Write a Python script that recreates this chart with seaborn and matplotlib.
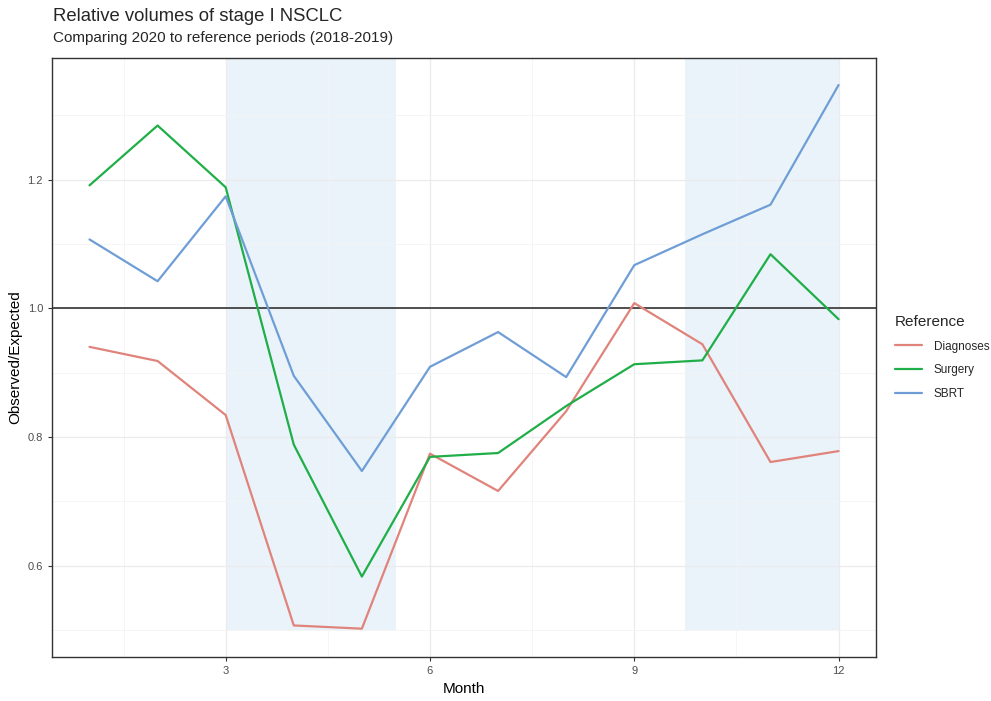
import numpy as np
import pandas as pd
import matplotlib
matplotlib.use('Agg')
import matplotlib.pyplot as plt
import seaborn as sns
from matplotlib.ticker import MultipleLocator

# Veriler (gözlenen / beklenen oranlar, ay bazında)
months = list(range(1, 13))
diagnoses = [0.940, 0.918, 0.834, 0.507, 0.502, 0.774, 0.716, 0.840, 1.008, 0.944, 0.761, 0.778]
surgery = [1.191, 1.284, 1.188, 0.788, 0.583, 0.769, 0.775, 0.848, 0.913, 0.919, 1.084, 0.983]
sbrt = [1.107, 1.042, 1.174, 0.895, 0.747, 0.909, 0.963, 0.893, 1.067, 1.115, 1.161, 1.347]
series_names = ['Diagnoses', 'Surgery', 'SBRT']
lockdowns = [(3, 5.5), (9.75, 12)]

df = pd.DataFrame({
    'Month': months * 3,
    'Value': diagnoses + surgery + sbrt,
    'Reference': [n for n in series_names for _ in months],
})

sns.set_style("white")
plt.rcParams['font.family'] = ['Liberation Sans', 'DejaVu Sans']

fig = plt.figure(figsize=(9.91, 7.01), dpi=100)
ax = fig.add_axes([0.0525, 0.0628, 0.8315, 0.8545])

# gölgeli dönemler
for x0, x1 in lockdowns:
    ax.fill_between([x0, x1], 0.5, 2, color='#EAF3FA', zorder=0, linewidth=0)

ax.axhline(1.0, color='#333333', linewidth=1.2, zorder=2)

palette = {'Diagnoses': '#E0837B', 'Surgery': '#1FAE48', 'SBRT': '#6F9ED6'}
sns.lineplot(data=df, x='Month', y='Value', hue='Reference', palette=palette,
             linewidth=1.6, ax=ax, zorder=3)

ax.set_xlim(0.45, 12.55)
ax.set_ylim(0.458, 1.389)
ax.set_xticks([3, 6, 9, 12])
ax.set_yticks([0.6, 0.8, 1.0, 1.2])
ax.set_yticklabels(['0.6', '0.8', '1.0', '1.2'])
ax.xaxis.set_minor_locator(MultipleLocator(1.5))
ax.yaxis.set_minor_locator(MultipleLocator(0.1))
ax.grid(True, which='major', color='#EBEBEB', linewidth=0.9, zorder=1)
ax.grid(True, which='minor', color='#F4F4F4', linewidth=0.6, zorder=1)
ax.set_axisbelow(True)
for s in ax.spines.values():
    s.set_color('#333333')
    s.set_linewidth(1.0)
ax.tick_params(axis='both', which='major', length=3, color='#333333',
               labelsize=8, labelcolor='#4D4D4D', left=True, bottom=True)
ax.tick_params(which='minor', length=0)

ax.set_xlabel('Month', fontsize=11, color='black')
ax.set_ylabel('Observed/Expected', fontsize=11, color='black')

leg = ax.legend(title='Reference', frameon=False, loc='center left',
                bbox_to_anchor=(1.01, 0.5), fontsize=8.5, title_fontsize=11,
                handlelength=2.3, handletextpad=1.0, labelspacing=1.0)
leg._legend_box.align = 'left'

fig.text(0.0535, 0.989, 'Relative volumes of stage I NSCLC', fontsize=13.3, va='top')
fig.text(0.0535, 0.956, 'Comparing 2020 to reference periods (2018-2019)', fontsize=11, va='top')

fig.savefig('out.png', dpi=100)
